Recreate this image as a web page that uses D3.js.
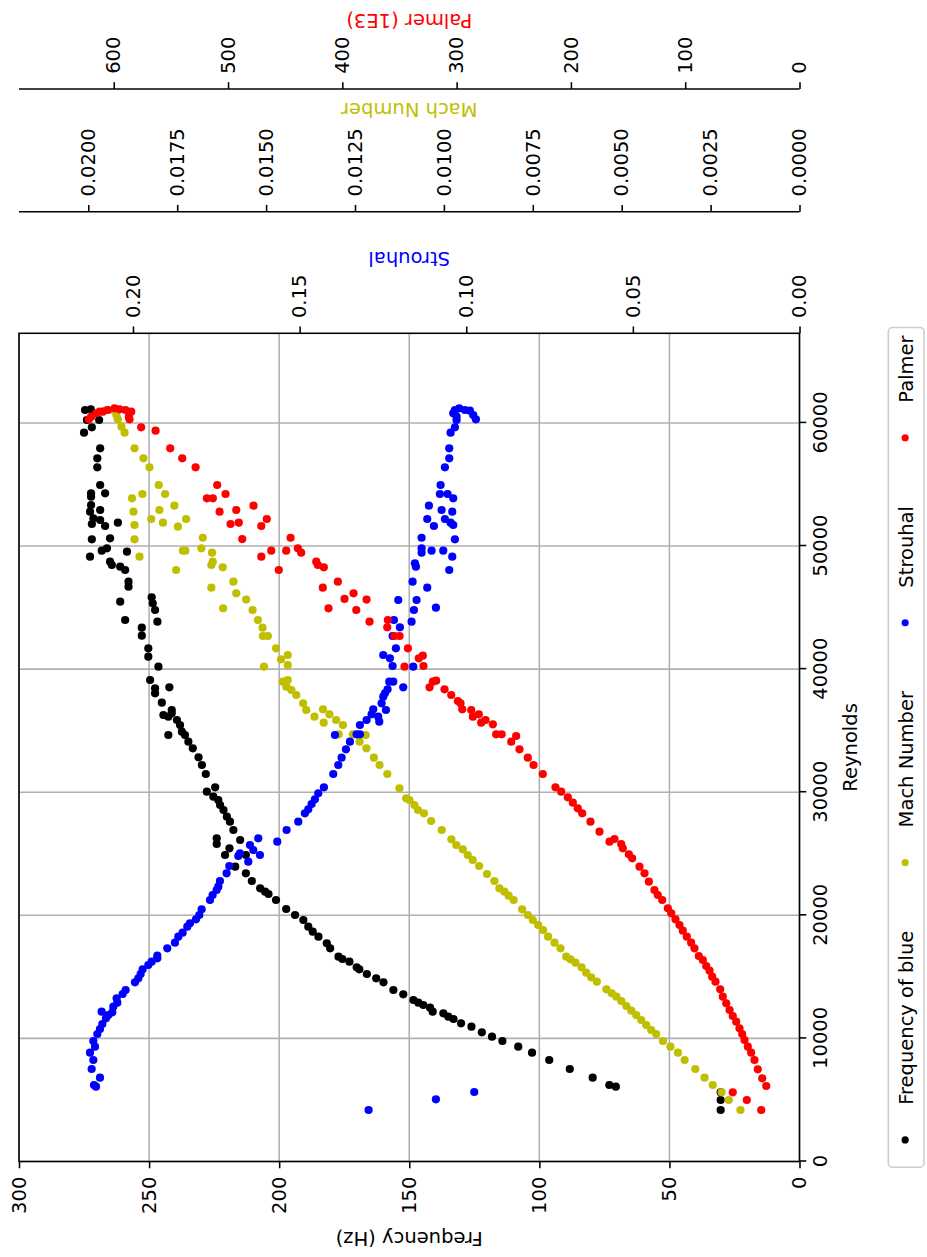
<!DOCTYPE html>
<html>
<head>
<meta charset="utf-8">
<script src="https://cdn.jsdelivr.net/npm/d3@7"></script>
<style>
  body { margin: 0; background: #fff; }
  svg { display: block; }
  text { font-family: "DejaVu Sans", sans-serif; }
</style>
</head>
<body>
<div id="chart"></div>
<script>
// ---- axis ticks ----
const reynoldsTicks = [0, 10000, 20000, 30000, 40000, 50000, 60000];
const frequencyTicks = [0, 50, 100, 150, 200, 250, 300];
const strouhalTicks = [0, 0.05, 0.10, 0.15, 0.20];
const machTicks = [0, 0.0025, 0.005, 0.0075, 0.01, 0.0125, 0.015, 0.0175, 0.02];
const palmerTicks = [0, 100, 200, 300, 400, 500, 600];

// ---- series: [Reynolds, value] ----
const frequencyPoints = [
  [4184,30.3],[4996,30.3],[5621,30.3],[6077,70.6],[6215,73.1],[6808,79.5],[7514,88.3],[8245,96.2],
  [8839,102.8],[9326,108.1],[9789,114.2],[10139,118.2],[10496,122.1],[10951,126.1],[11227,130.1],
  [11576,133.0],[11763,135.0],[12039,136.9],[12169,141.0],[12494,142.0],[12713,144.6],[12900,146.5],
  [13119,148.4],[13582,152.3],[13932,156.1],[14557,159.9],[14882,162.7],[15232,166.3],[15613,169.2],
  [15776,170.2],[16231,173.0],[16450,175.7],[16637,177.2],[17319,180.4],[17725,181.7],[18262,184.9],
  [18668,187.1],[19074,188.8],[19619,190.7],[20024,193.9],[20512,197.3],[21243,201.2],[21731,204.1],
  [21918,205.4],[22194,207.3],[22787,210.5],[23411,212.8],[23948,216.9],[24898,212.8],[24898,220.8],
  [25441,219.1],[25792,224.0],[26117,215.0],[26255,224.0],[26929,217.6],[27604,218.9],[28010,220.1],
  [28554,221.4],[28961,222.7],[29367,223.4],[29634,225.3],[30040,227.8],[30398,224.6],[31479,228.2],
  [32210,229.7],[32835,231.0],[33566,233.2],[34102,234.9],[34647,236.2],[34647,242.6],[34915,237.4],
  [35459,238.1],[35865,239.3],[36133,242.6],[36271,244.5],[36409,241.3],[36677,241.3],[37271,245.1],
  [38034,247.7],[38440,247.7],[38521,242.2],[39114,249.6],[40195,246.4],[41007,250.3],[41690,250.3],
  [42713,252.8],[43363,252.8],[43851,246.8],[43989,259.2],[44801,247.7],[45346,248.6],[45476,261.1],
  [45833,249.0],[46694,257.9],[47100,257.9],[48051,259.2],[48318,261.1],[48457,264.3],[48725,265.0],
  [49131,272.7],[49537,258.5],[49619,268.2],[49814,266.2],[50543,272.0],[50624,265.0],[51624,266.9],
  [51787,272.0],[51892,262.0],[52112,268.8],[52250,271.4],[52786,272.7],[52924,268.8],[53331,272.3],
  [54005,272.3],[54281,272.3],[54281,266.9],[54956,268.8],[56393,269.9],[57124,269.9],[57937,268.8],
  [59204,275.0],[59643,272.0],[60236,273.9],[60236,269.2],[61048,274.6],[61102,272.4]
];

const machPoints = [
  [4184,0.00166],[4996,0.00199],[5621,0.00219],[6215,0.00244],[6808,0.00267],[7514,0.00293],
  [8245,0.00323],[8839,0.00342],[9326,0.00363],[9789,0.00384],[10357,0.00403],[10682,0.00417],
  [11088,0.00431],[11495,0.00445],[11901,0.00459],[12250,0.00473],[12632,0.00487],[13038,0.00501],
  [13388,0.00515],[13664,0.00528],[13989,0.00543],[14606,0.00570],[14963,0.00586],[15337,0.00600],
  [15776,0.00613],[16150,0.00630],[16426,0.00644],[16637,0.00656],[17319,0.00672],[17774,0.00689],
  [18262,0.00707],[18806,0.00721],[19212,0.00735],[19619,0.00750],[20024,0.00764],[20488,0.00780],
  [21243,0.00804],[21592,0.00818],[21918,0.00830],[22194,0.00844],[22787,0.00858],[23355,0.00879],
  [24005,0.00901],[24493,0.00919],[24898,0.00933],[25361,0.00947],[25711,0.00965],[26174,0.00979],
  [26929,0.01006],[27660,0.01036],[28285,0.01056],[28554,0.01073],[28961,0.01083],[29367,0.01097],
  [29504,0.01106],[30317,0.01125],[31479,0.01159],[32210,0.01181],[32804,0.01197],[33566,0.01218],
  [34102,0.01237],[34647,0.01220],[34704,0.01256],[34704,0.01296],[35459,0.01284],[35646,0.01338],
  [35865,0.01303],[36133,0.01364],[36328,0.01322],[36677,0.01387],[36734,0.01340],[37222,0.01396],
  [37896,0.01415],[38302,0.01429],[38571,0.01443],[38977,0.01453],[39114,0.01439],[40195,0.01506],
  [40333,0.01439],[40795,0.01458],[41145,0.01439],[41690,0.01472],[42689,0.01495],[42689,0.01509],
  [43363,0.01510],[43989,0.01523],[44801,0.01538],[44940,0.01621],[45650,0.01556],[46158,0.01584],
  [46613,0.01654],[47100,0.01592],[48051,0.01753],[48270,0.01622],[48457,0.01654],[48725,0.01650],
  [49131,0.01856],[49456,0.01652],[49619,0.01734],[49619,0.01727],[49814,0.01682],[50543,0.01870],
  [50673,0.01678],[51568,0.01748],[51706,0.01870],[51892,0.01790],[52193,0.01725],[52193,0.01823],
  [52786,0.01873],[52924,0.01800],[53274,0.01758],[53875,0.01877],[54224,0.01784],[54224,0.01848],
  [54956,0.01802],[56393,0.01828],[57124,0.01845],[57937,0.01870],[59204,0.01898],[59692,0.01907],
  [60293,0.01917],[60643,0.01921],[61048,0.01950],[61048,0.01931]
];

const strouhalPoints = [
  [4184,0.1293],[5053,0.1091],[5646,0.0976],[6077,0.2111],[6215,0.2117],[6808,0.2099],[7514,0.2124],
  [8245,0.2119],[8839,0.2129],[9326,0.2114],[9789,0.2119],[10357,0.2107],[10763,0.2099],[11170,0.2092],
  [11633,0.2081],[11901,0.2074],[12120,0.2062],[12169,0.2094],[12575,0.2059],[12900,0.2047],
  [13257,0.2049],[13607,0.2031],[13932,0.2022],[14557,0.1994],[14882,0.1984],[15232,0.1977],
  [15613,0.1971],[15963,0.1954],[16231,0.1944],[16507,0.1927],[16718,0.1927],[17319,0.1897],
  [17774,0.1874],[18262,0.1864],[18587,0.1851],[19074,0.1837],[19350,0.1829],[19675,0.1811],
  [20024,0.1801],[20488,0.1794],[21243,0.1769],[21649,0.1761],[22056,0.1749],[22324,0.1744],
  [22787,0.1739],[23411,0.1719],[24005,0.1711],[24354,0.1654],[24817,0.1684],[24898,0.1619],
  [25036,0.1679],[25305,0.1639],[25711,0.1649],[25979,0.1567],[26255,0.1624],[26929,0.1539],
  [27604,0.1504],[28285,0.1484],[28610,0.1474],[29042,0.1464],[29423,0.1454],[29910,0.1444],
  [30398,0.1427],[31479,0.1399],[32210,0.1384],[32804,0.1374],[33485,0.1361],[34102,0.1349],
  [34647,0.1394],[34704,0.1329],[34704,0.1319],[35459,0.1319],[35727,0.1261],[35865,0.1299],
  [36133,0.1264],[36328,0.1284],[36677,0.1241],[36734,0.1279],[37222,0.1254],[37759,0.1249],
  [38034,0.1244],[38359,0.1236],[38521,0.1189],[38977,0.1231],[38977,0.1219],[40195,0.1159],
  [40252,0.1221],[40877,0.1229],[41145,0.1249],[41690,0.1211],[42689,0.1221],[43396,0.1199],
  [43851,0.1164],[43989,0.1217],[44801,0.1157],[44990,0.1091],[45613,0.1204],[45613,0.1149],
  [46613,0.1117],[47100,0.1161],[48051,0.1051],[48318,0.1151],[48595,0.1154],[49131,0.1042],
  [49456,0.1134],[49619,0.1104],[49619,0.1069],[49814,0.1134],[50543,0.1034],[50673,0.1134],
  [51624,0.1097],[51706,0.1039],[51892,0.1047],[52193,0.1117],[52193,0.1064],[52786,0.1042],
  [52924,0.1074],[53274,0.1112],[53875,0.1039],[54224,0.1079],[54224,0.1056],[54956,0.1077],
  [56393,0.1064],[57124,0.1051],[57937,0.1051],[59204,0.1047],[59643,0.1034],[60236,0.1029],
  [60504,0.1029],[60781,0.1039],[61048,0.1034],[61187,0.1021],[61048,0.1004],[60991,0.0989],
  [60643,0.0979],[60293,0.0971]
];

const palmerPoints = [
  [4184,33.5],[4996,46.1],[5621,58.4],[6133,29.1],[6759,32.6],[7490,36.5],[8245,39.4],[8839,42.3],
  [9326,45.2],[9870,48.1],[10357,50.1],[10820,52.5],[11357,55.4],[11820,58.4],[12307,61.2],
  [12852,64.1],[13388,67.1],[13989,69.4],[14606,73.5],[15012,76.4],[15500,78.7],[15882,81.6],
  [16369,84.6],[16694,88.1],[17319,91.9],[17774,94.8],[18262,98.6],[18750,102.1],[19212,105.0],
  [19675,108.5],[20163,112.2],[20569,115.2],[21243,120.1],[21649,124.0],[22056,126.9],[22730,131.8],
  [23411,135.6],[23948,140.0],[24630,146.4],[24955,149.3],[25441,154.6],[25792,156.0],[25979,166.2],
  [26198,161.9],[26791,175.0],[27604,182.9],[28285,190.1],[28692,194.0],[29147,198.3],[29586,202.7],
  [30040,208.5],[30398,213.5],[31479,224.6],[32210,232.7],[32804,237.7],[33485,245.0],[34102,252.2],
  [34565,247.9],[34704,260.6],[34704,265.4],[35515,268.3],[35646,278.5],[35865,274.7],[36133,285.8],
  [36328,280.6],[36677,287.2],[36734,295.1],[37222,296.6],[37409,298.9],[37896,304.7],[38359,310.6],
  [38521,323.7],[38977,320.8],[39058,317.9],[40195,345.6],[40252,329.0],[40877,333.1],[41089,329.6],
  [41690,342.6],[42689,349.9],[42689,354.3],[43396,360.7],[43851,376.2],[43989,360.2],[44801,387.8],
  [44940,412.1],[45650,378.8],[45700,398.1],[46158,390.2],[46613,417.1],[47100,403.9],[48051,455.6],
  [48270,416.2],[48457,421.4],[48725,422.8],[49131,470.9],[49456,436.0],[49619,449.1],[49619,462.2],
  [49814,438.9],[50567,487.6],[50673,445.3],[51624,470.9],[51787,497.8],[51892,490.6],[52193,466.1],
  [52786,507.4],[52924,492.8],[53274,477.7],[53875,513.3],[53875,518.5],[54224,502.2],[54956,509.5],
  [56393,528.4],[57124,540.1],[57937,550.6],[59367,563.4],[59643,576.0],[60293,586.2],[60504,586.8],
  [60910,584.7],[61048,589.7],[61102,594.9],[61187,599.3],[61048,605.2],[60910,609.6],[60910,612.4],
  [60781,615.3],[60504,619.7],[60293,621.8]
];

const seriesNames = ["Frequency of blue", "Mach Number", "Strouhal", "Palmer"];
const seriesColors = ["#000000", "#bfbf00", "#0000ff", "#ff0000"];

// ---- layout (landscape figure, turned a quarter turn counter-clockwise) ----
const PAGE_W = 927, PAGE_H = 1257;
const FONT = 19.5;
const LW = 1.56;
const TICK = 6.8;
const plot = { left: 95.5, right: 923.7, top: 19, bottom: 799.5 };
const machSpineX = 1045.3;
const palmerSpineX = 1168;

const svg = d3.select("#chart").append("svg")
  .attr("width", PAGE_W).attr("height", PAGE_H);
svg.append("rect").attr("width", PAGE_W).attr("height", PAGE_H).attr("fill", "#fff");

const fig = svg.append("g").attr("transform", `translate(0,${PAGE_H}) rotate(-90)`);

const x = d3.scaleLinear().domain([0, 67280]).range([plot.left, plot.right]);
const yFreq = d3.scaleLinear().domain([0, 300]).range([plot.bottom, plot.top]);
const ySt = d3.scaleLinear().domain([0, 0.2342]).range([plot.bottom, plot.top]);
const yMach = d3.scaleLinear().domain([0, 0.021949]).range([plot.bottom, plot.top]);
const yPalmer = d3.scaleLinear().domain([0, 682.9]).range([plot.bottom, plot.top]);

// grid
const grid = fig.append("g").attr("stroke", "#b0b0b0").attr("stroke-width", LW);
grid.selectAll("line.v").data(reynoldsTicks).join("line")
  .attr("x1", d => x(d)).attr("x2", d => x(d))
  .attr("y1", plot.top).attr("y2", plot.bottom);
grid.selectAll("line.h").data(frequencyTicks).join("line")
  .attr("x1", plot.left).attr("x2", plot.right)
  .attr("y1", d => yFreq(d)).attr("y2", d => yFreq(d));

function styleAxis(g) {
  g.attr("font-size", null).attr("font-family", null);
  g.select(".domain").remove();
  g.selectAll(".tick line").attr("stroke", "#000").attr("stroke-width", LW);
  g.selectAll(".tick text").attr("font-size", FONT).attr("fill", "#000");
}

// axes
fig.append("g").attr("transform", `translate(0,${plot.bottom})`)
  .call(d3.axisBottom(x).tickValues(reynoldsTicks).tickFormat(d3.format("d"))
    .tickSize(TICK).tickPadding(6.6))
  .call(styleAxis);

fig.append("g").attr("transform", `translate(${plot.left},0)`)
  .call(d3.axisLeft(yFreq).tickValues(frequencyTicks).tickFormat(d3.format("d"))
    .tickSize(TICK).tickPadding(8.4))
  .call(styleAxis);

fig.append("g").attr("transform", `translate(${plot.right},0)`)
  .call(d3.axisRight(ySt).tickValues(strouhalTicks).tickFormat(d3.format(".2f"))
    .tickSize(TICK).tickPadding(8.4))
  .call(styleAxis);

fig.append("g").attr("transform", `translate(${machSpineX},0)`)
  .call(d3.axisRight(yMach).tickValues(machTicks).tickFormat(d3.format(".4f"))
    .tickSize(TICK).tickPadding(8.4))
  .call(styleAxis);

fig.append("g").attr("transform", `translate(${palmerSpineX},0)`)
  .call(d3.axisRight(yPalmer).tickValues(palmerTicks).tickFormat(d3.format("d"))
    .tickSize(TICK).tickPadding(8.4))
  .call(styleAxis);

// extra spines for the offset axes
[machSpineX, palmerSpineX].forEach(sx => {
  fig.append("line").attr("x1", sx).attr("x2", sx)
    .attr("y1", plot.top).attr("y2", plot.bottom)
    .attr("stroke", "#000").attr("stroke-width", LW);
});

// series
const layers = [
  { pts: frequencyPoints, y: yFreq, color: seriesColors[0] },
  { pts: machPoints, y: yMach, color: seriesColors[1] },
  { pts: strouhalPoints, y: ySt, color: seriesColors[2] },
  { pts: palmerPoints, y: yPalmer, color: seriesColors[3] }
];
layers.forEach(l => {
  fig.append("g").selectAll("circle").data(l.pts).join("circle")
    .attr("cx", d => x(d[0])).attr("cy", d => l.y(d[1]))
    .attr("r", 4.1).attr("fill", l.color);
});

// frame
fig.append("rect")
  .attr("x", plot.left).attr("y", plot.top)
  .attr("width", plot.right - plot.left).attr("height", plot.bottom - plot.top)
  .attr("fill", "none").attr("stroke", "#000").attr("stroke-width", LW);

// axis titles
const midY = (plot.top + plot.bottom) / 2;
fig.append("text").attr("x", (plot.left + plot.right) / 2).attr("y", 856.5)
  .attr("text-anchor", "middle").attr("font-size", FONT).text("Reynolds");

function sideTitle(xPos, label, color) {
  fig.append("text").attr("transform", `translate(${xPos},${midY}) rotate(-90)`)
    .attr("text-anchor", "middle").attr("font-size", FONT).attr("fill", color).text(label);
}
sideTitle(25.5, "Frequency (Hz)", "#000");
sideTitle(1005, "Strouhal", seriesColors[2]);
sideTitle(1153.7, "Mach Number", seriesColors[1]);
sideTitle(1243, "Palmer (1E3)", seriesColors[3]);

// legend below the plot, four columns, centred on the axes
const leg = fig.append("g");
const handleLen = 2 * FONT, textPad = 0.8 * FONT, colSpace = 2.5 * FONT, borderPad = 0.4 * FONT;
const legTop = 888.3, legH = 35.7, legMid = legTop + legH / 2;
const legBox = leg.append("rect");
const entries = [];
let cursor = 0;
seriesNames.forEach((name, i) => {
  const g = leg.append("g");
  g.append("circle").attr("cx", cursor + handleLen / 2).attr("cy", legMid - 1).attr("r", 3.6)
    .attr("fill", seriesColors[i]);
  const t = g.append("text").attr("x", cursor + handleLen + textPad).attr("y", legMid + 0.36 * FONT)
    .attr("font-size", FONT).text(name);
  const w = t.node().getComputedTextLength();
  cursor += handleLen + textPad + w + (i < seriesNames.length - 1 ? colSpace : 0);
  entries.push(g);
});
const totalW = cursor + 2 * borderPad;
const legLeft = (plot.left + plot.right) / 2 - totalW / 2;
leg.selectAll("g").attr("transform", `translate(${legLeft + borderPad},0)`);
legBox.attr("x", legLeft).attr("y", legTop).attr("width", totalW).attr("height", legH)
  .attr("rx", 4).attr("fill", "#fff").attr("fill-opacity", 0.8)
  .attr("stroke", "#cccccc").attr("stroke-width", LW);
</script>
</body>
</html>
